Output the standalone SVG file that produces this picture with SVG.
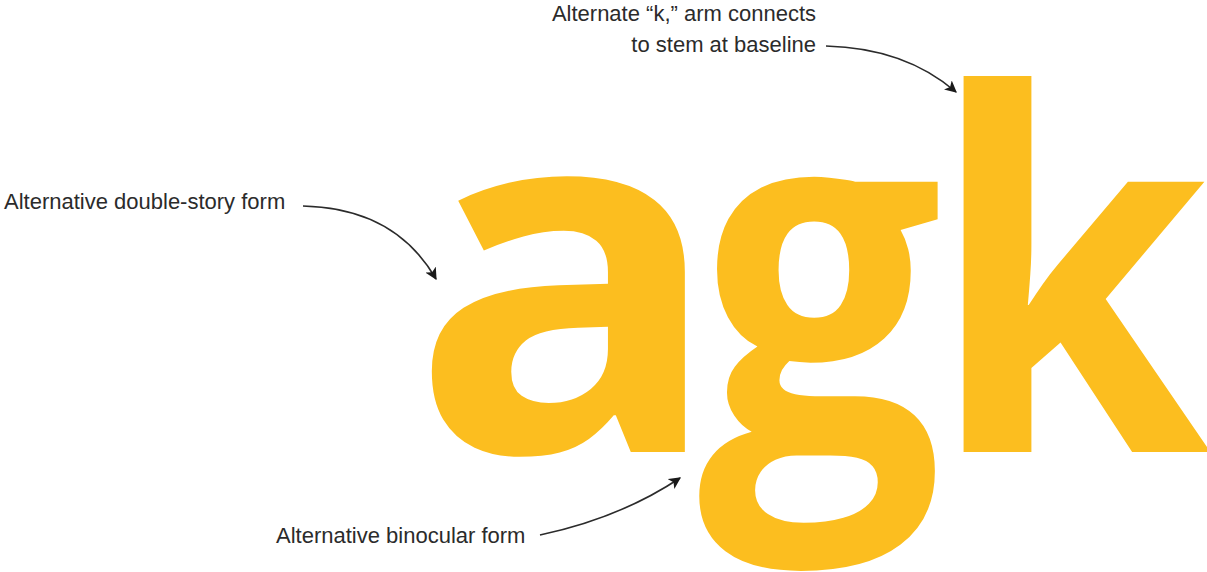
<svg xmlns="http://www.w3.org/2000/svg" width="1207" height="572" viewBox="0 0 1207 572">
<style>
.lbl{font-family:"Liberation Sans","Roboto",sans-serif;font-size:22px;fill:#2b2b2b;}
.big{font-family:"Open Sans",sans-serif;font-weight:680;font-size:495px;fill:#fcbe1f;}
.conn{fill:none;stroke:#2b2b2b;stroke-width:1.6;}
</style>
<defs>
<marker id="ah" viewBox="0 0 10 10" refX="9" refY="5" markerWidth="12" markerHeight="12" markerUnits="userSpaceOnUse" orient="auto">
<path d="M0,0 L10,5 L0,10 L2.5,5 Z" fill="#1a1a1a"/>
</marker>
</defs>
<rect width="1207" height="572" fill="#ffffff"/>
<g id="letter-a"><text class="big" transform="translate(410,452) scale(1.05,1)" x="0" y="0">a</text></g>
<g id="letter-g"><text class="big" transform="translate(698,452) scale(0.875,1)" x="0" y="0">g</text></g>
<g id="letter-k"><text class="big" transform="translate(928,452) scale(0.92,1)" x="0" y="0">k</text></g>
<g id="label-a"><text class="lbl" x="4" y="209">Alternative double-story form</text></g>
<g id="label-k"><text class="lbl" x="816" y="21" text-anchor="end">Alternate “k,” arm connects</text><text class="lbl" x="816" y="52" text-anchor="end">to stem at baseline</text></g>
<g id="label-g"><text class="lbl" x="276" y="543">Alternative binocular form</text></g>
<g id="connectors">
<path class="conn" marker-end="url(#ah)" d="M303,206 Q395,208 436,279"/>
<path class="conn" marker-end="url(#ah)" d="M826,46 Q905,48 956,92"/>
<path class="conn" marker-end="url(#ah)" d="M540,535 Q620,518 680,478"/>
</g>
</svg>
